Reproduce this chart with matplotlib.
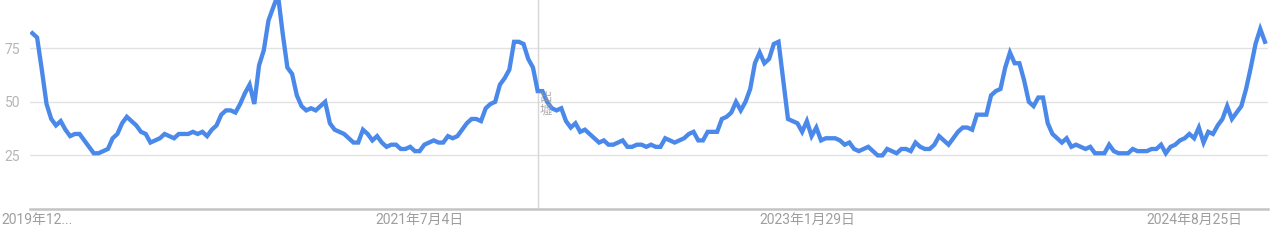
import matplotlib
matplotlib.use("Agg")
import matplotlib.pyplot as plt
import pandas as pd

plt.rcParams['font.family'] = ['Roboto', 'Noto Sans CJK JP', 'DejaVu Sans']

# 每周数据 (2019-12-08 起)
start_date = "2019-12-08"
values = [
    82, 80, 65, 49, 42, 39, 41, 37, 34, 35, 35, 32, 29, 26, 26, 27, 28, 33, 35, 40,
    43, 41, 39, 36, 35, 31, 32, 33, 35, 34, 33, 35, 35, 35, 36, 35, 36, 34, 37, 39,
    44, 46, 46, 45, 49, 54, 58, 49, 67, 74, 88, 94, 100, 82, 66, 63, 53, 48, 46, 47,
    46, 48, 50, 40, 37, 36, 35, 33, 31, 31, 37, 35, 32, 34, 31, 29, 30, 30, 28, 28,
    29, 27, 27, 30, 31, 32, 31, 31, 34, 33, 34, 37, 40, 42, 42, 41, 47, 49, 50, 58,
    61, 65, 78, 78, 77, 70, 66, 55, 55, 50, 47, 46, 47, 41, 38, 40, 36, 37, 35, 33,
    31, 32, 30, 30, 31, 32, 29, 29, 30, 30, 29, 30, 29, 29, 33, 32, 31, 32, 33, 35,
    36, 32, 32, 36, 36, 36, 42, 43, 45, 50, 46, 50, 56, 68, 73, 68, 70, 77, 78, 60,
    42, 41, 40, 36, 41, 34, 38, 32, 33, 33, 33, 32, 30, 31, 28, 27, 28, 29, 27, 25,
    25, 28, 27, 26, 28, 28, 27, 31, 29, 28, 28, 30, 34, 32, 30, 33, 36, 38, 38, 37,
    44, 44, 44, 53, 55, 56, 66, 73, 68, 68, 60, 50, 48, 52, 52, 40, 35, 33, 31, 33,
    29, 30, 29, 28, 29, 26, 26, 26, 30, 27, 26, 26, 26, 28, 27, 27, 27, 28, 28, 30,
    26, 29, 30, 32, 33, 35, 33, 38, 31, 36, 35, 39, 42, 48, 42, 45, 48, 56, 66, 77,
    84, 78,
]
dates = pd.date_range(start_date, periods=len(values), freq="7D")

tick_dates = pd.to_datetime(["2021-07-04", "2023-01-29", "2024-08-25"])
tick_labels = ["2021年7月4日", "2023年1月29日", "2024年8月25日"]
first_label = "2019年12..."
y_ticks = [25, 50, 75]
hover_date = pd.Timestamp(start_date) + pd.Timedelta(days=750)

fig = plt.figure(figsize=(12.8, 2.43), dpi=100)
ax = fig.add_axes([30 / 1280, 34 / 243, 1238 / 1280, 209 / 243])

ax.plot(dates, values, color="#4a89ea", linewidth=3.1, solid_joinstyle="miter",
        zorder=3, clip_on=True)

ax.set_xlim(dates[0] - pd.Timedelta(days=3.5), dates[-1] + pd.Timedelta(days=4.5))
ax.set_ylim(0, 97.5)

ax.set_yticks(y_ticks)
ax.set_yticklabels([str(v) for v in y_ticks])
ax.set_xticks(tick_dates)
ax.set_xticklabels(tick_labels)
ax.grid(axis="y", color="#e2e2e2", linewidth=1.0)
ax.tick_params(axis="both", length=0, labelsize=10, colors="#9e9e9e")
ax.tick_params(axis="y", pad=7, colors="#b5b5b5")
ax.tick_params(axis="x", pad=3)

# 第一个日期标签 (被截断, 左对齐到图边)
fig.text(1 / 1280, 30 / 243, first_label, fontsize=10, color="#9e9e9e",
         ha="left", va="top")

for s in ["top", "right", "left"]:
    ax.spines[s].set_visible(False)
ax.spines["bottom"].set_color("#c4c4c4")
ax.spines["bottom"].set_linewidth(1.8)

# 悬停竖线
ax.axvline(hover_date, color="#d6d6d6", linewidth=1.0, zorder=2)
ax.text(hover_date + pd.Timedelta(days=2), 52, "出", fontsize=9, color="#9a9a9a",
        alpha=0.8, va="center", ha="left", zorder=4)
ax.text(hover_date + pd.Timedelta(days=2), 46, "墟", fontsize=9, color="#9a9a9a",
        alpha=0.8, va="center", ha="left", zorder=4)

fig.savefig("out.png", dpi=100)
